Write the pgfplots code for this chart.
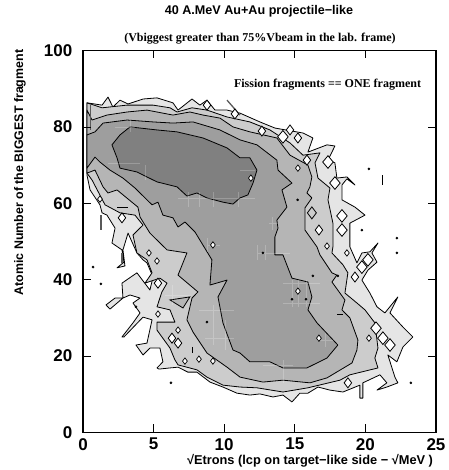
\documentclass[border=0pt]{standalone}
\usepackage{pgfplots}
\usepackage{fontspec}
\pgfplotsset{compat=1.18}
\setmainfont{Liberation Sans}
\newfontfamily\serifb{Liberation Serif}
\definecolor{LA}{gray}{0.90}
\definecolor{LB}{gray}{0.80}
\definecolor{LC}{gray}{0.71}
\definecolor{LD}{gray}{0.62}
\definecolor{LE}{gray}{0.50}
\begin{document}
\begin{tikzpicture}
\path[use as bounding box] (-83bp,-37.5bp) rectangle (366bp,432.5bp);
\begin{axis}[
  at={(0,0)}, anchor=origin, scale only axis,
  width=353bp, height=382bp,
  xmin=0, xmax=25, ymin=0, ymax=100,
  xtick={0,5,10,15,20,25}, ytick={0,20,40,60,80,100},
  tick align=inside, major tick length=8bp,
  tick style={black,line width=0.7bp},
  axis line style={line width=1.5bp},
  axis on top,
  unbounded coords=jump,
  /pgf/number format/assume math mode=true,
  tick label style={font=\fontsize{17bp}{18bp}\selectfont\bfseries},
  xticklabel style={inner sep=0pt,yshift=-5.5bp},
  yticklabel style={inner sep=0pt,xshift=-10.5bp},
  clip=true,
]
\addplot[fill=LA,draw=black,line width=0.8bp,line join=round] coordinates {
(.28,86.3)(1.35,85.7)(1.77,87.8)(2.12,85.2)(2.62,87)(3.19,86)(4.25,87.3)(5.24,87.6)(6.37,86.3)(6.73,84.4)(7.72,87.3)(8.28,85.7)(8.78,87)(9.35,84.4)(10.2,84.4)(11.12,83.6)(12.53,81.3)(13.59,79.7)(15.58,78.4)(16.28,77.1)(15.93,73.4)(17.28,75.3)(17.84,75)(17.35,71.3)(17.84,70.6)(17.98,66.6)(18.69,66.9)(19.26,64.8)(18.69,66.4)(18.34,64.8)(18.34,60.9)(19.26,59)(19.97,56.9)(18.9,54.8)(18.9,48.6)(19.4,44.4)(19.75,47)(20.32,47.3)(20.89,49.6)(20.46,47)(20.82,44.6)(20.18,42.5)(19.75,39.9)(20.32,36.5)(20.82,32.9)(21.38,31.3)(22.3,35.5)(21.74,31.3)(22.66,27.6)(23.36,25)(22.66,22.4)(22.23,18.5)(21.59,20.3)(22.09,14.5)(22.3,13)(21.52,11.9)(20.82,11.1)(21.52,13)(21.03,15.1)(19.82,13)(19.82,9)(19.61,9)(19.61,12.4)(18.41,10.6)(17.49,11.1)(16.64,11.9)(15.93,10.3)(15.36,10.3)(14.8,8)(14.16,9.8)(13.45,9.3)(12.53,10.1)(11.82,9.8)(10.9,10.3)(9.91,11.9)(8.99,13.2)(8.07,15.8)(7.43,15.8)(6.73,17.1)(6.16,16.9)(5.38,16.6)(5.24,16.9)(5.66,18.5)(5.45,22.1)(4.74,22.1)(4.25,20.3)(3.75,22.9)(4.53,23.4)(4.89,29.5)(4.25,30.2)(2.9,25)(2.76,25)(3.54,28.7)(4.04,31.3)(3.54,33.9)(4.04,35.2)(3.33,36)(2.83,35.2)(1.91,32.3)(1.63,33.4)(2.27,35.2)(2.83,35.2)(2.76,39.1)(3.82,41.8)(4.74,37.3)(4.96,40.7)(4.53,44.4)(4.25,45.2)(3.82,47)(3.19,52.2)(2.83,47.8)(2.97,43.6)(2.41,43.1)(2.9,44.6)(2.76,47.8)(2.05,49.6)(2.27,53.5)(1.7,56.9)(1.35,57.5)(1.2,59.6)(.5,63.5)(.28,67.4)
} -- cycle;
\addplot[fill=LB,draw=black,line width=0.8bp,line join=round] coordinates {
(.28,86.3)(1.35,85)(3.12,85.7)(4.96,85.7)(6.16,85)(6.66,83.9)(7.72,85)(8.78,84.4)(10.2,82.6)(11.82,81.3)(13.24,79.2)(14.66,75.8)(15.58,72.6)(16.78,73.2)(16.43,70.6)(16.64,66.6)(17.49,64)(17.35,60.9)(17.7,54.8)(17.7,48.6)(17.63,47)(18.41,43.9)(18.76,41.8)(18.55,36.5)(19.4,33.9)(19.97,32.1)(20.67,28.7)(20.89,22.1)(20.67,19.5)(20.89,16.9)(18.9,15.1)(18.2,13.7)(15.93,11.7)(14.16,10.6)(12.32,11.7)(11.12,11.9)(9.91,12.4)(8.78,14.5)(8.07,16.4)(6.73,17.7)(6.51,19)(6.16,22.1)(5.24,26.8)(5.24,28.9)(6.51,28.9)(6.16,32.1)(5.24,32.9)(5.59,36.8)(5.95,39.1)(5.45,40.4)(4.39,39.1)(4.89,41.8)(4.53,45.2)(3.82,47)(3.54,51.7)(4.25,54.3)(3.68,56.9)(2.62,57.5)(1.56,59.6)(.64,66.1)(.28,67.9)
} -- cycle;
\addplot[fill=LC,draw=black,line width=0.8bp,line join=round] coordinates {
(.28,84.4)(.64,81.8)(1.7,83.1)(3.12,83.9)(4.53,84.4)(6.37,83.1)(7.57,83.9)(8.5,83.1)(9.7,82.3)(10.62,80)(11.82,78.7)(13.73,77.1)(14.66,72.6)(15.93,70)(16.21,66.9)(16.07,64.3)(15.86,62.7)(16.21,61.4)(15.72,58.8)(15.72,53)(16.57,48.6)(16.78,46.5)(17.63,41.8)(17.98,41.2)(17.63,39.4)(18.55,34.7)(18.34,32.1)(18.9,30)(19.47,24.2)(19.4,21.6)(19.05,18.2)(17.28,14.3)(16.07,13)(14.16,13.7)(12.74,13.2)(11.12,14.5)(10.2,17.1)(8.78,20.8)(7.79,26.3)(7.36,29.5)(7.72,35.2)(8.14,36.8)(6.73,41.2)(7.36,47)(5.95,47.8)(4.74,52.2)(4.04,56.4)(3.89,59)(2.41,63.5)(1.77,62.7)(1.42,64.3)(.85,68.7)(.28,67.9)
} -- cycle;
\addplot[fill=LC,draw=black,line width=0.8bp] coordinates {(6.16,34.7)(7.08,32.6)(7.57,35.5)} -- cycle;
\addplot[fill=LD,draw=black,line width=0.8bp,line join=round] coordinates {
(.28,69.2)(.28,77.9)(.85,78.7)(1.42,81)(3.12,81.8)(4.96,81.3)(6.37,81)(7.79,81.3)(9.7,79.2)(11.12,76.6)(12.32,75.3)(13.73,71.3)(13.81,68.7)(14.8,65.3)(14.09,63.5)(14.44,59)(13.73,55.6)(13.81,53.5)(13.59,51.2)(13.59,46.5)(14.16,46.5)(14.8,40.4)(15.93,39.4)(16.21,35.5)(15.93,32.1)(16.57,28.7)(18.05,22.9)(17.28,19.5)(15.86,16.9)(14.16,16.9)(13.24,18.5)(11.82,18.5)(11.12,20.8)(10.62,21.6)(9.91,28.7)(9.56,35.5)(10.2,39.9)(8.99,38.6)(9.13,45.2)(7.93,52.5)(7.22,55.1)(6.73,53.8)(6.37,56.2)(5.66,56.9)(5.31,60.3)(4.89,59.6)(3.68,64)(2.83,66.6)(1.91,68.7)(1.2,70.8)(.85,72.1)
} -- cycle;
\addplot[fill=LE,draw=black,line width=0.8bp,line join=round] coordinates {
(2.05,75.3)(2.62,77.9)(3.33,80)(5.24,79.2)(6.66,78.7)(8.5,77.1)(10.2,74.5)(11.12,71.9)(11.82,71.9)(12.32,68.7)(12.04,65.3)(11.68,62.2)(11.12,61.4)(10.62,59.8)(9.91,60.3)(8.78,61.4)(8.07,62.7)(7.36,61.9)(6.66,64.3)(5.24,65.6)(3.82,68.2)(2.62,69.2)(2.41,71.9)
} -- cycle;
% faint light bin edges inside the shaded bands
\addplot[draw=white,draw opacity=0.22,line width=0.5bp] coordinates {
(6.73,61.4)(12.18,61.4)(nan,nan)(7.43,63)(7.43,59)(nan,nan)(8.21,63)(8.21,59)(nan,nan)(9.2,63)(9.2,59)(nan,nan)(10.97,63)(10.97,59)(nan,nan)
(12.32,47)(14.66,47)(nan,nan)(12.32,49.1)(12.32,45.2)(nan,nan)(12.89,49.1)(12.89,45.2)(nan,nan)
(8.78,49.1)(9.7,49.1)(nan,nan)(8.78,50.9)(8.78,47.3)(nan,nan)
(14.16,39.1)(16.78,39.1)(nan,nan)(14.16,33.9)(16.78,33.9)(nan,nan)(14.8,39.9)(14.8,32.9)(nan,nan)(15.22,39.9)(15.22,32.9)(nan,nan)(15.79,39.9)(15.79,32.9)(nan,nan)
(16.57,24.2)(17.7,24.2)(nan,nan)(17.13,26)(17.13,22.4)(nan,nan)
(12.74,17.7)(14.87,17.7)(nan,nan)(14.16,19)(14.16,13)(nan,nan)
(2.27,80)(3.68,80)(nan,nan)(1.77,70.6)(4.04,70.6)(nan,nan)(3.33,81.8)(3.33,78.7)(nan,nan)(4.39,70)(4.39,66.1)(nan,nan)
(8.21,32.1)(10.69,32.1)(nan,nan)(8.64,24.7)(10.69,24.7)(nan,nan)(9.2,33.4)(9.2,22.9)(nan,nan)(10.05,29.5)(10.05,21.6)(nan,nan)
(5.8,36)(7.57,36)(nan,nan)(6.3,38.6)(6.3,33.4)(nan,nan)
(13.38,56.4)(13.38,53)(nan,nan)(13.2,54.8)(13.8,54.8)(nan,nan)(11.12,68.7)(12.18,68.7)
};
% white holes
\addplot[only marks,mark=diamond*,mark size=7bp,mark options={fill=white,draw=black,line width=0.8bp,yscale=.9}] coordinates {
(17.35,70.8)(17.84,65.3)(18.34,56.7)(18.34,53)(14.16,77.4)(20.18,45.2)(19.75,43.3)(20.75,27.3)(21.24,24.7)(21.74,22.9)};
\addplot[only marks,mark=diamond*,mark size=5bp,mark options={fill=white,draw=black,line width=0.8bp}] coordinates {
(15.22,77.1)(14.66,79.2)(12.67,78.9)(15.86,71.3)(19.26,40.7)(18.76,13)(5.31,39.1)(6.3,24.7)(6.73,23.4)(8.78,85.7)(10.76,83.4)(16.71,53)(2.76,56.2)};
\addplot[only marks,mark=diamond*,mark size=6bp,mark options={fill=LB,draw=black,line width=0.8bp}] coordinates {(16.21,57.5)};
\addplot[only marks,mark=diamond*,mark size=3.2bp,mark options={fill=white,draw=black,line width=0.7bp}] coordinates {
(1.2,61.1)(4.67,47)(5.24,44.9)(9.2,49.1)(15.22,69.2)(17.28,48.8)(18.69,47)(15.22,37)(16.71,24.7)(20.25,24.7)(7.22,18.7)(8.21,19.2)(9.2,18.7)(5.31,31)(6.73,26.8)(11.89,66.6)};
% isolated points
\addplot[only marks,mark=*,mark size=1.1bp,mark options={fill=black,draw=black}] coordinates {
(.71,43.3)(1.27,38.9)(6.23,13)(8.78,28.9)(3.75,32.9)(20.25,69)(19.75,53)(22.23,50.9)(22.23,47)(12.74,47)(16.28,41)(18.05,41)(14.8,34.9)(15.79,34.9)(23.22,13)(15.2,60.9)};
% thin contour slivers
\addplot[draw=black!65,line width=1.3bp] coordinates {(10.2,87)(11.12,83.1)};
\addplot[draw=black!65,line width=1.3bp] coordinates {(1.27,56.9)(1.27,53)};
\addplot[draw=black,line width=1bp] coordinates {(2.41,59)(3.19,59)};
\addplot[draw=black!65,line width=1.3bp] coordinates {(2.76,47)(2.76,44.4)};
\addplot[draw=black!65,line width=1bp] coordinates {(.5,85.7)(.5,79.2)};
\addplot[draw=black,line width=1bp] coordinates {(7.79,22.4)(7.79,20.8)};
\addplot[draw=black,line width=1bp] coordinates {(18,31)(18.4,31)};
\addplot[draw=black,line width=1bp] coordinates {(21.24,64.9)(21.24,67.3)};
\end{axis}
\node[font=\fontsize{12.6bp}{14bp}\selectfont\bfseries,inner sep=0pt] at (176bp,421.5bp) {40 A.MeV Au+Au projectile−like};
\node[font=\fontsize{12bp}{14bp}\selectfont\serifb\bfseries,inner sep=0pt] at (177bp,393.5bp) {(Vbiggest greater than 75\%Vbeam in the lab. frame)};
\node[font=\fontsize{12bp}{14bp}\selectfont\serifb\bfseries,inner sep=0pt] at (244.5bp,347.5bp) {Fission fragments == ONE fragment};
\node[font=\fontsize{12.8bp}{14bp}\selectfont\bfseries,inner sep=0pt] at (227bp,-28.5bp) {√Etrons (lcp on target−like side − √MeV )};
\node[font=\fontsize{12.4bp}{14bp}\selectfont\bfseries,inner sep=0pt,rotate=90] at (-63bp,260bp) {Atomic Number of the BIGGEST fragment};
\end{tikzpicture}
\end{document}
